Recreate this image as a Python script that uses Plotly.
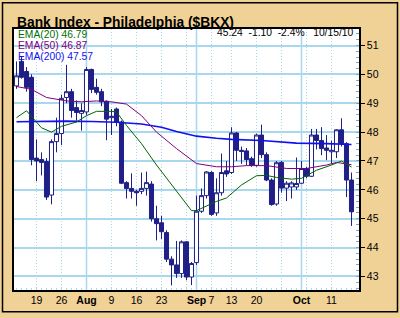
import plotly.graph_objects as go

# ---- data ----
dates = ["07-13","07-14","07-15","07-16",
         "07-19","07-20","07-21","07-22","07-23",
         "07-26","07-27","07-28","07-29","07-30",
         "08-02","08-03","08-04","08-05","08-06",
         "08-09","08-10","08-11","08-12","08-13",
         "08-16","08-17","08-18","08-19","08-20",
         "08-23","08-24","08-25","08-26","08-27",
         "08-30","08-31","09-01","09-02","09-03",
         "09-07","09-08","09-09","09-10",
         "09-13","09-14","09-15","09-16","09-17",
         "09-20","09-21","09-22","09-23","09-24",
         "09-27","09-28","09-29","09-30","10-01",
         "10-04","10-05","10-06","10-07","10-08",
         "10-11","10-12","10-13","10-14","10-15"]

open_ = [49.60,50.45,50.10,49.90, 47.10,47.05,46.98,45.82,47.67, 47.95,49.20,49.40,48.85,48.65,
         48.70,50.17,49.55,49.40,49.07, 48.50,48.80,48.35,46.25,46.05, 45.95,45.95,46.05,46.20,45.00,
         44.86,44.52,43.60,43.40,43.10, 44.20,42.98,43.48,45.26,45.80, 46.60,45.20,45.90,46.66,
         46.60,47.97,47.37,47.35,47.08, 46.85,47.90,47.22,46.34,45.51, 46.95,46.06,46.10,46.10,46.23,
         46.74,46.47,47.90,47.71,47.45, 47.32,47.32,48.08,47.60,46.34]
high = [50.45,50.60,50.25,50.00, 47.75,47.30,47.10,47.75,48.50, 49.30,50.33,49.50,49.10,49.00,
        50.25,50.20,49.85,49.50,49.10, 48.80,48.85,48.40,46.30,46.57, 46.00,46.60,46.63,46.30,45.45,
        45.10,44.60,43.70,44.23,44.25, 44.22,43.50,45.80,46.05,46.65, 46.65,46.40,47.26,47.00,
        48.17,48.00,47.50,47.45,47.15, 47.95,48.26,47.30,46.40,47.00, 47.00,46.30,46.30,47.12,47.00,
        46.80,48.11,48.11,48.17,47.90, 47.70,48.10,48.48,47.65,46.60]
low = [49.50,49.85,49.40,46.85, 46.30,46.50,45.65,45.50,47.30, 47.55,49.00,48.50,48.40,48.05,
       48.60,49.35,49.30,48.90,47.72, 47.90,48.20,46.20,45.70,45.70, 45.45,45.85,45.80,44.90,44.25,
       44.30,43.50,42.69,42.95,42.95, 42.87,42.70,43.40,45.20,45.70, 45.10,45.10,45.80,46.45,
       46.55,47.00,46.90,46.85,46.80, 46.80,47.10,46.30,45.45,45.45, 45.90,45.61,45.70,46.00,46.20,
       46.40,46.45,47.40,47.20,47.03, 46.90,47.10,47.50,45.75,44.75]
close = [49.95,49.90,49.55,47.05, 47.00,46.95,45.75,47.67,47.95, 49.17,49.40,48.75,48.68,48.75,
         50.17,49.48,49.38,49.05,48.45, 48.55,48.35,46.23,46.05,45.95, 45.90,46.05,46.25,45.00,44.83,
         44.55,43.60,43.40,43.10,44.20, 42.98,43.45,45.26,45.80,46.62, 45.15,45.90,46.60,46.55,
         47.97,47.37,47.33,47.05,46.85, 47.90,47.22,46.34,45.49,46.94, 46.06,46.23,46.24,46.22,46.74,
         46.47,47.90,47.71,47.43,47.37, 47.37,48.08,47.60,46.34,45.24]

ema20_dates = ["07-13","07-15","07-20","07-22","07-26","07-29","08-02","08-04","08-09","08-10",
               "08-12","08-17","08-20","08-25","08-27","08-31","09-01","09-03","09-08","09-10",
               "09-15","09-20","09-22","09-24","09-29","10-01","10-06","10-11","10-13","10-15"]
ema20 = [48.50,48.74,48.15,48.00,48.20,48.35,48.57,48.72,48.72,48.70,
         48.23,47.60,46.86,46.17,45.72,45.28,45.28,45.43,45.60,45.72,
         46.17,46.49,46.50,46.43,46.37,46.40,46.68,46.86,47.00,46.79]

ema50_dates = ["07-13","07-16","07-21","07-27","07-30","08-04","08-09","08-12","08-17","08-20",
               "08-26","08-31","09-01","09-08","09-13","09-16","09-22","09-28","10-04","10-08",
               "10-12","10-15"]
ema50 = [49.58,49.48,49.20,49.08,49.05,49.08,49.05,48.97,48.57,48.00,
         47.43,47.03,46.91,46.80,46.80,46.84,46.84,46.74,46.74,46.86,
         46.95,46.87]

ema200_dates = ["07-13","07-20","07-27","08-03","08-10","08-17","08-23","08-26","09-01","09-08",
                "09-13","09-21","09-27","09-30","10-08","10-15"]
ema200 = [48.36,48.38,48.38,48.37,48.34,48.28,48.17,48.02,47.86,47.79,
          47.75,47.71,47.66,47.62,47.60,47.57]

tick_dates = ["07-19","07-26","08-02","08-09","08-16","08-23","08-30","09-01","09-07",
              "09-13","09-20","09-27","10-01","10-04","10-11"]
tick_text = ["19","26","<b>Aug</b>","9","16","23","","<b>Sep</b>","7",
             "13","20","","<b>Oct</b>","","11"]
month_dates = ["08-02","09-01","10-01"]
title_text = "Bank Index - Philadelphia ($BKX)"
last_date = "10/15/10"

# ---- styling ----
NAVY = "#1f1f87"
GRID = "#a8d8ee"
BG = "#f0d196"
FONT = "Liberation Sans, Arial, sans-serif"

idx = {d: i for i, d in enumerate(dates)}
xi = list(range(len(dates)))

fig = go.Figure()
fig.add_trace(go.Candlestick(
    x=xi, open=open_, high=high, low=low, close=close,
    increasing=dict(line=dict(color=NAVY, width=1), fillcolor="white"),
    decreasing=dict(line=dict(color=NAVY, width=1), fillcolor=NAVY),
    whiskerwidth=0, showlegend=False, hoverinfo="skip"))
fig.add_trace(go.Scatter(x=[idx[d] for d in ema200_dates], y=ema200, mode="lines",
                         line=dict(color="#1010f0", width=1.6), showlegend=False, hoverinfo="skip"))
fig.add_trace(go.Scatter(x=[idx[d] for d in ema50_dates], y=ema50, mode="lines",
                         line=dict(color="#800080", width=1), showlegend=False, hoverinfo="skip"))
fig.add_trace(go.Scatter(x=[idx[d] for d in ema20_dates], y=ema20, mode="lines",
                         line=dict(color="#006400", width=1), showlegend=False, hoverinfo="skip"))

for d in month_dates:
    fig.add_shape(type="line", xref="x", yref="paper", x0=idx[d], x1=idx[d], y0=0, y1=1,
                  line=dict(color=GRID, width=1.5), layer="below")

# outer border
fig.add_shape(type="rect", xref="paper", yref="paper",
              x0=(2.5-14)/345, x1=(397.5-14)/345, y0=-(315-293)/264, y1=1+(29-2.5)/264,
              line=dict(color="black", width=1.5), layer="above")

fig.add_annotation(xref="paper", yref="paper", x=(14.5-14)/345, y=1+(29-22)/264,
                   xanchor="left", yanchor="middle", showarrow=False,
                   text="<b>%s</b>" % title_text, font=dict(family=FONT, size=13.8, color="black"))

chg = close[-1] - close[-2]
pct = chg / close[-2] * 100
info = "%.2f\u00a0\u00a0%.2f\u00a0\u00a0%.1f%%\u00a0\u00a0\u00a0%s" % (close[-1], chg, pct, last_date)
fig.add_annotation(xref="paper", yref="paper", x=(356-14)/345, y=1-(33-29)/264,
                   xanchor="right", yanchor="middle", showarrow=False,
                   text=info, font=dict(family=FONT, size=10.3, color="black"))

for k, (lab, vals, col) in enumerate([("EMA(20)", ema20, "#007000"),
                                     ("EMA(50)", ema50, "#800080"),
                                     ("EMA(200)", ema200, "#1010f0")]):
    fig.add_annotation(xref="paper", yref="paper", x=(15.5-14)/345, y=1-(35+11*k-29)/264,
                       xanchor="left", yanchor="middle", showarrow=False,
                       text="%s %.2f" % (lab, vals[-1]), font=dict(family=FONT, size=10.3, color=col))

fig.update_layout(
    width=400, height=318,
    margin=dict(l=14, r=41, t=29, b=25),
    paper_bgcolor=BG, plot_bgcolor="white",
    font=dict(family=FONT, size=10.5, color="black"),
    xaxis=dict(range=[-0.5, 68.5], tickmode="array",
               tickvals=[idx[d] for d in tick_dates], ticktext=tick_text,
               showgrid=True, gridcolor=GRID, gridwidth=1, griddash="1px,2px",
               ticks="inside", ticklen=3, tickcolor=GRID,
               minor=dict(dtick=1, tick0=0, ticks="inside", ticklen=2, tickcolor=GRID, showgrid=False),
               showline=True, linecolor="black", linewidth=1.5, mirror=True,
               zeroline=False, rangeslider=dict(visible=False), fixedrange=True),
    yaxis=dict(side="right", range=[42.531, 51.572], tickmode="linear", tick0=43, dtick=1,
               showgrid=True, gridcolor=GRID, gridwidth=1.5,
               ticks="outside", ticklen=4, tickcolor="black",
               minor=dict(dtick=0.2, tick0=43, ticks="inside", ticklen=3, tickcolor="#7fa8c8", showgrid=False),
               showline=True, linecolor="black", linewidth=1.5, mirror=True,
               zeroline=False, fixedrange=True),
    boxgap=0.1, boxgroupgap=0.1,
)

fig.write_html("out.html")
